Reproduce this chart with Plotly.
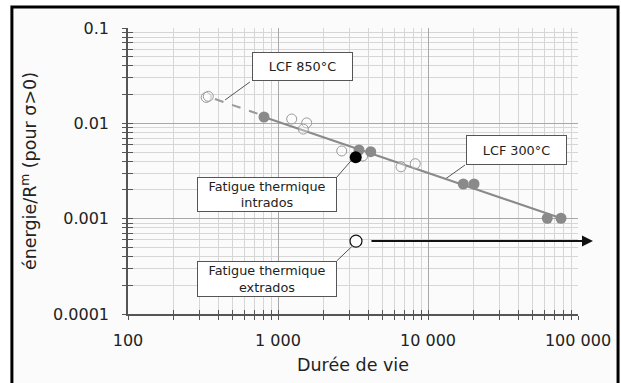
import numpy as np
import plotly.graph_objects as go

# ---------------- data ----------------
lcf850_open_x = [332, 343]
lcf850_open_y = [0.0187, 0.0192]

lcf300_open_x = [1234, 1553, 1476, 2660, 3671, 6607, 8222]
lcf300_open_y = [0.0111, 0.0101, 0.0087, 0.00513, 0.00454, 0.0035, 0.00377]

lcf300_filled_x = [807, 3467, 4150, 17190, 20270, 62400, 77040]
lcf300_filled_y = [0.01165, 0.00525, 0.00504, 0.00231, 0.00231, 0.00101, 0.00101]

intrados_x = [3297]
intrados_y = [0.0044]

extrados_x = [3311]
extrados_y = [0.000582]
extrados_arrow_x = [4104, 125900]

fit300_x = [807, 77040]
fit300_y = [0.01165, 0.00101]
fit850_x = [380, 778]
fit850_y = [0.0180, 0.0122]

x_tickvals = [100, 1000, 10000, 100000]
x_ticktext = ["100", "1 000", "10 000", "100 000"]
y_tickvals = [0.0001, 0.001, 0.01, 0.1]
y_ticktext = ["0.0001", "0.001", "0.01", "0.1"]

FONT = "DejaVu Sans"
AXIS = "#555555"
TXT = "#222222"

x_minor = [k * 10 ** d for d in range(2, 5) for k in range(2, 10)]
y_minor = [k * 10.0 ** d for d in range(-4, -1) for k in range(2, 10)]

fig = go.Figure()

# leader lines for the label boxes (log10 coordinates of both ends)
leaders = [
    (2.813, -1.566, 2.647, -1.755),
    (4.247, -2.437, 4.113, -2.587),
    (3.393, -2.563, 3.491, -2.385),
    (3.393, -3.441, 3.491, -3.294),
]
for x0, y0, x1, y1 in leaders:
    fig.add_trace(go.Scatter(x=[10 ** x0, 10 ** x1], y=[10 ** y0, 10 ** y1],
                             mode="lines", line=dict(color="#555555", width=1),
                             showlegend=False, hoverinfo="skip"))

# fit lines
fig.add_trace(go.Scatter(x=fit850_x, y=fit850_y, mode="lines",
                         line=dict(color="#9a9a9a", width=2, dash="dash"),
                         showlegend=False, hoverinfo="skip"))
fig.add_trace(go.Scatter(x=fit300_x, y=fit300_y, mode="lines",
                         line=dict(color="#8a8a8a", width=2),
                         showlegend=False, hoverinfo="skip"))
# open circles
fig.add_trace(go.Scatter(x=lcf850_open_x, y=lcf850_open_y, mode="markers",
                         marker=dict(size=10, color="rgba(255,255,255,0.3)",
                                     line=dict(color="#9a9a9a", width=1)),
                         showlegend=False))
fig.add_trace(go.Scatter(x=lcf300_open_x, y=lcf300_open_y, mode="markers",
                         marker=dict(size=10, color="rgba(255,255,255,0.3)",
                                     line=dict(color="#9a9a9a", width=1)),
                         showlegend=False))
# filled gray
fig.add_trace(go.Scatter(x=lcf300_filled_x, y=lcf300_filled_y, mode="markers",
                         marker=dict(size=11, color="#8a8a8a",
                                     line=dict(color="#8a8a8a", width=0)),
                         showlegend=False))
# intrados (black)
fig.add_trace(go.Scatter(x=intrados_x, y=intrados_y, mode="markers",
                         marker=dict(size=12, color="#000000"),
                         showlegend=False))
# extrados (open black)
fig.add_trace(go.Scatter(x=extrados_x, y=extrados_y, mode="markers",
                         marker=dict(size=12, color="#ffffff",
                                     line=dict(color="#111111", width=1.2)),
                         showlegend=False))
# invisible trace for overlay axes
fig.add_trace(go.Scatter(x=[1000], y=[0.001], xaxis="x2", yaxis="y2",
                         mode="markers", marker=dict(opacity=0),
                         showlegend=False, hoverinfo="skip"))

lg = np.log10
annotations = []
# arrow for extrados
annotations.append(dict(x=lg(extrados_arrow_x[1]), y=lg(extrados_y[0]),
                        ax=lg(extrados_arrow_x[0]), ay=lg(extrados_y[0]),
                        xref="x", yref="y", axref="x", ayref="y",
                        showarrow=True, arrowhead=2, arrowsize=1.1,
                        arrowwidth=2, arrowcolor="#111111", text=""))

# label boxes (center in log coords, size in px)
boxes = [
    ("LCF 850°C", 3.163, -1.404, 99, 27),
    ("LCF 300°C", 4.587, -2.280, 99, 28),
    ("Fatigue thermique<br>intrados", 2.927, -2.747, 138, 33),
    ("Fatigue thermique<br>extrados", 2.927, -3.630, 138, 34),
]
for text, bx, by, w, h in boxes:
    annotations.append(dict(x=bx, y=by, xref="x", yref="y", text=text,
                            showarrow=False, width=w, height=h,
                            bgcolor="#ffffff", bordercolor="#555555",
                            borderwidth=1, borderpad=0,
                            font=dict(family=FONT, size=12.8, color=TXT)))

fig.update_layout(
    width=621, height=383,
    margin=dict(l=128, r=43, t=28, b=69, autoexpand=False),
    paper_bgcolor="#ffffff",
    plot_bgcolor="#fbfbfb",
    font=dict(family=FONT, color=TXT),
    annotations=annotations,
    shapes=[dict(type="rect", xref="paper", yref="paper",
                 x0=-0.258, x1=1.089, y0=-0.29, y1=1.073,
                 line=dict(color="#000000", width=3),
                 fillcolor="#fbfbfb", layer="below")],
    xaxis=dict(type="log", range=[2, 5], tickmode="array", automargin=False,
               tickvals=x_tickvals, ticktext=x_ticktext,
               showgrid=True, gridcolor="#a8a8a8", gridwidth=1,
               showline=True, linecolor=AXIS, linewidth=1.5,
               ticks="outside", ticklen=4, tickcolor=AXIS, tickwidth=1.2,
               ticklabelstandoff=7,
               tickfont=dict(size=16, color=TXT),
               minor=dict(tickmode="array", tickvals=x_minor,
                          ticks="outside", ticklen=4, tickcolor=AXIS,
                          showgrid=True, gridcolor="#d6d6d6", gridwidth=1),
               zeroline=False,
               title=dict(text="Durée de vie", standoff=10,
                          font=dict(size=17.5, color=TXT))),
    yaxis=dict(type="log", range=[-4, -1], tickmode="array", automargin=False,
               tickvals=y_tickvals, ticktext=y_ticktext,
               showgrid=True, gridcolor="#a8a8a8", gridwidth=1,
               showline=True, linecolor=AXIS, linewidth=1.5,
               ticks="outside", ticklen=4, tickcolor=AXIS, tickwidth=1.2,
               ticklabelstandoff=10,
               tickfont=dict(size=16, color=TXT),
               minor=dict(tickmode="array", tickvals=y_minor,
                          ticks="outside", ticklen=4, tickcolor=AXIS,
                          showgrid=True, gridcolor="#d6d6d6", gridwidth=1),
               zeroline=False,
               title=dict(text="énergie/R<sup>m</sup> (pour σ>0)", standoff=12,
                          font=dict(size=17.5, color=TXT))),
    xaxis2=dict(type="log", range=[2, 5], overlaying="x", anchor="y2",
                side="bottom", showgrid=False, showline=False, automargin=False,
                showticklabels=False, tickmode="array", tickvals=x_tickvals,
                ticks="inside", ticklen=4, tickcolor=AXIS, tickwidth=1.2,
                minor=dict(tickmode="array", tickvals=x_minor,
                           ticks="inside", ticklen=4, tickcolor=AXIS),
                zeroline=False),
    yaxis2=dict(type="log", range=[-4, -1], overlaying="y", anchor="x2",
                side="left", showgrid=False, showline=False, automargin=False,
                showticklabels=False, tickmode="array", tickvals=y_tickvals,
                ticks="inside", ticklen=5, tickcolor=AXIS, tickwidth=1.2,
                minor=dict(tickmode="array", tickvals=y_minor,
                           ticks="inside", ticklen=5, tickcolor=AXIS),
                zeroline=False),
)

fig.write_html("out.html", config={"displayModeBar": False},
               post_script="document.body.style.margin='0px';"
                           "document.body.style.padding='0px';")
